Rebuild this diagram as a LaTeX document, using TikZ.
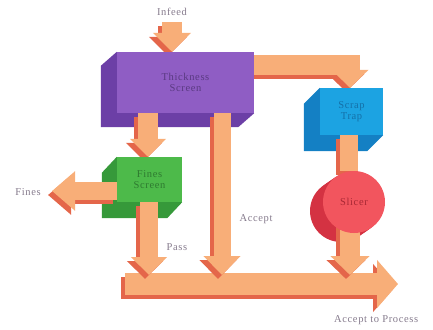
\documentclass[tikz,border=0pt]{standalone}
\usepackage{fontspec}
\setmainfont{Liberation Serif}[LetterSpace=6]
\usetikzlibrary{arrows.meta,calc,backgrounds}
\definecolor{arrlight}{HTML}{F8AE78}
\definecolor{arrdark}{HTML}{E4664A}
\definecolor{purf}{HTML}{8F5DC4}
\definecolor{purs}{HTML}{6C3FA6}
\definecolor{purt}{HTML}{5A3A82}
\definecolor{grnf}{HTML}{4DBA4A}
\definecolor{grns}{HTML}{36993A}
\definecolor{grnt}{HTML}{2E7A30}
\definecolor{bluf}{HTML}{1CA3E2}
\definecolor{blus}{HTML}{1480C4}
\definecolor{blut}{HTML}{1470A8}
\definecolor{redf}{HTML}{F2555E}
\definecolor{reds}{HTML}{D43242}
\definecolor{redt}{HTML}{A82834}
\definecolor{labc}{HTML}{857A8C}
\newcommand\myarrow[3]{%
  \draw[line width=#1, line join=miter, draw=arrdark, -{Triangle[#2, fill=arrdark]},
        transform canvas={shift={(-4pt,-4pt)}}] #3;
  \draw[line width=#1, line join=miter, draw=arrlight, -{Triangle[#2, fill=arrlight]}] #3;
}
\newcommand\myband[2]{%
  \draw[line width=#1, draw=arrdark, transform canvas={shift={(-4pt,-4pt)}}] #2;
  \draw[line width=#1, draw=arrlight] #2;
}
\tikzset{
  box/.style={rectangle, inner sep=0pt, align=center, font=\fontsize{10.5}{11.5}\selectfont},
  lab/.style={text=labc, inner sep=0pt, font=\fontsize{10.5}{11.5}\selectfont},
}
\begin{document}
\begin{tikzpicture}[x=1pt, y=-1pt]
\useasboundingbox (0,0) rectangle (433,329);

% boxes
\node[box, fill=purf, text=purt, minimum width=137pt, minimum height=61pt] (thick) at (185.5,82.5) {Thickness\\Screen};
\node[box, fill=grnf, text=grnt, minimum width=65pt, minimum height=45pt] (fines) at (149.5,179.5) {Fines\\Screen};
\node[box, fill=bluf, text=blut, minimum width=63pt, minimum height=47pt] (scrap) at (351.5,111.5) {Scrap\\Trap};
\node[circle, fill=redf, text=redt, minimum size=62pt, inner sep=0pt, font=\fontsize{10.5}{11.5}\selectfont] (slicer) at (354,202) {Slicer};

% 3D sides
\begin{scope}[on background layer]
\fill[purs] (thick.north west) -- ++(-16,14) -- ($(thick.south west)+(-16,14)$) -- ($(thick.south east)+(-16,14)$) -- (thick.south east) -- (thick.south west) -- cycle;
\fill[grns] (fines.north west) -- ++(-15,16) -- ($(fines.south west)+(-15,16)$) -- ($(fines.south east)+(-15,16)$) -- (fines.south east) -- (fines.south west) -- cycle;
\fill[blus] (scrap.north west) -- ++(-16,16) -- ($(scrap.south west)+(-16,16)$) -- ($(scrap.south east)+(-16,16)$) -- (scrap.south east) -- (scrap.south west) -- cycle;
\foreach \t in {0.2,0.4,0.6,0.8,1}{\fill[reds] ($(slicer)+(-13*\t,9*\t)$) circle (31);}
\end{scope}

% coordinates for the bar and the free ends
\coordinate (barL) at (125,284);
\coordinate (barR) at (398,284);
\coordinate (infeedtop) at (172,22);
\coordinate (finesout) at (52,191);
\coordinate (acctop) at (222,113);
\coordinate (bartop) at (0,275);

% arrows (behind boxes)
\begin{scope}[on background layer]
\myarrow{22pt}{width=47pt,length=21pt}{(barL) -- (barR)}
\myarrow{20pt}{width=37pt,length=19pt}{(infeedtop) -- (infeedtop |- thick.north)}
\myarrow{20pt}{width=35pt,length=18pt}{(thick.south -| 148,0) -- (fines.north -| 148,0)}
\myarrow{18pt}{width=38pt,length=23pt}{(fines.west |- finesout) -- (finesout)}
\myarrow{18pt}{width=35pt,length=18pt}{(fines.south -| 149,0) -- (bartop -| 149,0)}
\myarrow{17pt}{width=36pt,length=19pt}{(acctop) -- (acctop |- bartop)}
\myarrow{20pt}{width=36pt,length=18pt}{([yshift=-13pt]thick.north east) -- ([yshift=-13pt]thick.north east -| 350,0) -- (scrap.north -| 350,0)}
\myband{18pt}{(scrap.south -| 349,0) -- (slicer.north -| 349,0)}
\myarrow{20pt}{width=38pt,length=19pt}{(slicer.center -| 350,0) -- (bartop -| 350,0)}
\end{scope}

% labels
\node[lab] (linfeed) at (172,12) {Infeed};
\node[lab] (lfines) at (28,192) {Fines};
\node[lab] (lpass) at (177,247) {Pass};
\node[lab] (laccept) at (256,219) {Accept};
\node[lab, anchor=west] (lproc) at (334,320) {Accept to Process};
\end{tikzpicture}
\end{document}
